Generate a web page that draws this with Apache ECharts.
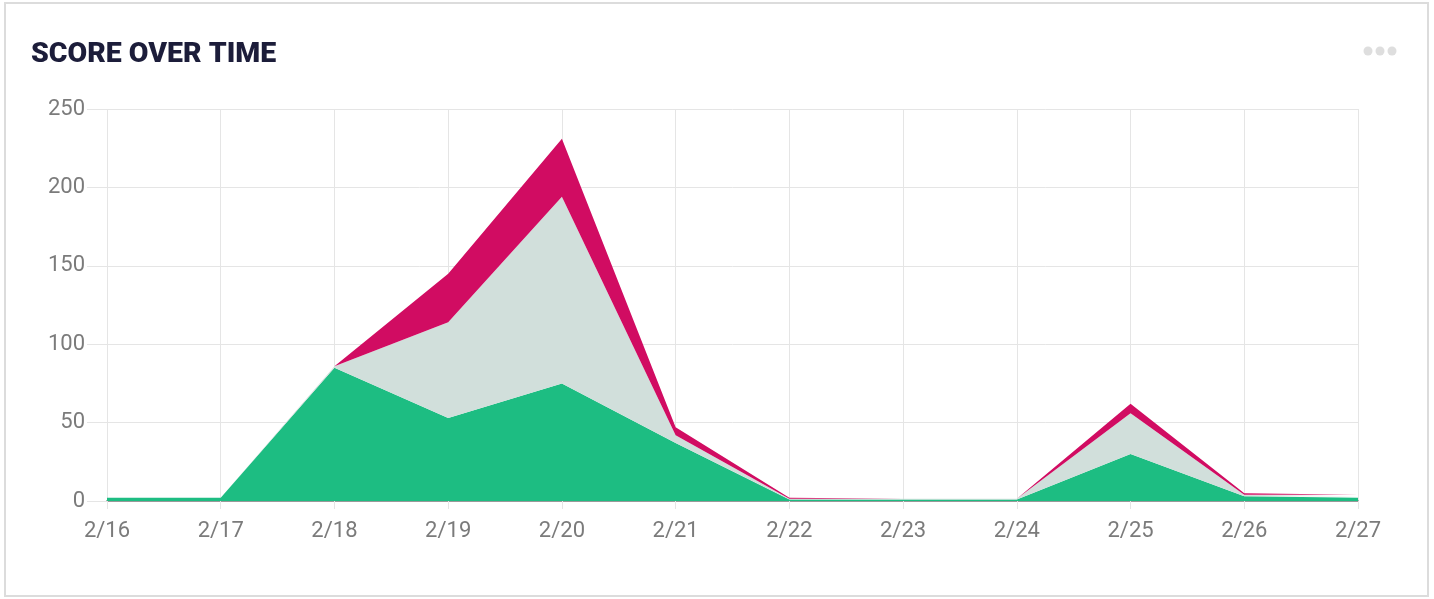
<!DOCTYPE html>
<html>
<head>
<meta charset="utf-8">
<script src="https://cdn.jsdelivr.net/npm/echarts@6/dist/echarts.min.js"></script>
<style>
html,body{margin:0;padding:0;background:#fff;}
#chart{width:1434px;height:599px;}
</style>
</head>
<body>
<div id="chart"></div>
<script>
const categories = ['2/16','2/17','2/18','2/19','2/20','2/21','2/22','2/23','2/24','2/25','2/26','2/27'];
const greenValues = [2, 2, 85, 53, 75, 37, 1, 1, 1, 30, 3, 2];
const grayValues = [0, 0, 1, 61, 119, 5, 0.5, 0.5, 0.5, 26, 1, 1];
const magentaValues = [0, 0, 0, 31, 37, 5, 0.5, 0, 0, 6, 1, 1];
const yTicks = [0, 50, 100, 150, 200, 250];

const chart = echarts.init(document.getElementById('chart'), null, {renderer: 'canvas'});
const labelFont = {color: '#7b7b7b', fontSize: 22, fontFamily: 'Roboto', fontWeight: 400};
function areaSeries(name, data, color) {
  return {
    name: name, type: 'line', stack: 'total', data: data,
    symbol: 'none', smooth: false,
    lineStyle: {width: 0},
    areaStyle: {color: color, opacity: 1},
    itemStyle: {color: color}
  };
}
chart.setOption({
  animation: false,
  title: {
    text: 'SCORE OVER TIME', left: 26, top: 35,
    textStyle: {color: '#1c1d3a', fontSize: 28.5, fontWeight: 900, fontFamily: 'Roboto'}
  },
  graphic: [
    {type: 'rect', shape: {x: 5, y: 3, width: 1423, height: 593}, style: {fill: 'none', stroke: '#dcdcdc', lineWidth: 2}, silent: true},
    {type: 'circle', shape: {cx: 1368, cy: 51, r: 4.5}, style: {fill: '#dedede'}},
    {type: 'circle', shape: {cx: 1380, cy: 51, r: 4.5}, style: {fill: '#dedede'}},
    {type: 'circle', shape: {cx: 1392, cy: 51, r: 4.5}, style: {fill: '#dedede'}}
  ],
  grid: {left: 107, right: 76, top: 109, bottom: 98, containLabel: false},
  xAxis: {
    type: 'category', data: categories, boundaryGap: false,
    axisLine: {show: true, lineStyle: {color: '#999', width: 2}},
    axisTick: {show: true, alignWithLabel: true, length: 8, lineStyle: {color: '#e5e5e5'}},
    axisLabel: Object.assign({margin: 19, interval: 0}, labelFont),
    splitLine: {show: true, lineStyle: {color: '#e5e5e5', width: 1}}
  },
  yAxis: {
    type: 'value', min: 0, max: 250, interval: 50,
    axisLine: {show: false},
    axisTick: {show: true, length: 20, lineStyle: {color: '#e5e5e5'}},
    axisLabel: Object.assign({margin: 22, formatter: v => yTicks.includes(v) ? String(v) : ''}, labelFont),
    splitLine: {show: true, lineStyle: {color: '#e5e5e5', width: 1}}
  },
  series: [
    areaSeries('Green', greenValues, '#1dbd82'),
    areaSeries('Gray', grayValues, '#d1dfdb'),
    areaSeries('Magenta', magentaValues, '#d10c62')
  ]
});
</script>
</body>
</html>
